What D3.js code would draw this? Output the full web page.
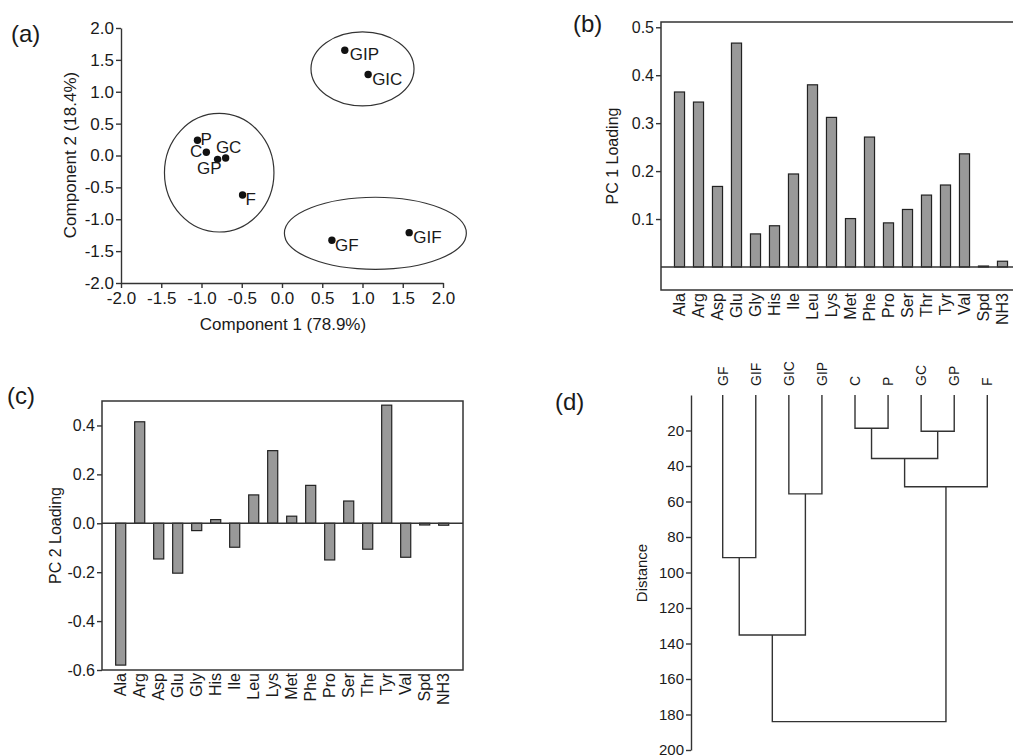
<!DOCTYPE html>
<html>
<head>
<meta charset="utf-8">
<script src="https://cdn.jsdelivr.net/npm/d3@7"></script>
<style>
  body { margin: 0; background: #fff; }
  text { font-family: "Liberation Sans", Arial, sans-serif; fill: #1a1a1a; }
</style>
</head>
<body>
<svg id="chart" width="1013" height="755"></svg>
<script>
// ---- DATA ----
// (a) PCA scores
var scoreNames = ["GIP", "GIC", "P", "C", "GC", "GP", "F", "GF", "GIF"];
var scoreX = [0.78, 1.07, -1.05, -0.94, -0.70, -0.80, -0.49, 0.62, 1.58];
var scoreY = [1.65, 1.27, 0.24, 0.05, -0.04, -0.06, -0.62, -1.33, -1.21];
// cluster ellipses (data units)
var ellipseCx = [1.00, -0.78, 1.16];
var ellipseCy = [1.36, -0.27, -1.22];
var ellipseRx = [0.64, 0.68, 1.13];
var ellipseRy = [0.58, 0.93, 0.565];
var pcaTicks = [-2, -1.5, -1, -0.5, 0, 0.5, 1, 1.5, 2];

// (b), (c) loadings
var aminoAcids = ["Ala", "Arg", "Asp", "Glu", "Gly", "His", "Ile", "Leu", "Lys",
                  "Met", "Phe", "Pro", "Ser", "Thr", "Tyr", "Val", "Spd", "NH3"];
var pc1Loading = [0.365, 0.344, 0.168, 0.467, 0.069, 0.086, 0.194, 0.380, 0.312,
                  0.101, 0.271, 0.092, 0.120, 0.150, 0.171, 0.236, 0.002, 0.012];
var pc2Loading = [-0.580, 0.415, -0.146, -0.204, -0.030, 0.015, -0.098, 0.116, 0.297,
                  0.029, 0.155, -0.150, 0.091, -0.106, 0.483, -0.139, -0.007, -0.008];
var pc1Ticks = [0.1, 0.2, 0.3, 0.4, 0.5];
var pc2Ticks = [-0.6, -0.4, -0.2, 0, 0.2, 0.4];

// (d) dendrogram: leaves 0..8, merge k creates node 9+k
var leaves = ["GF", "GIF", "GIC", "GIP", "C", "P", "GC", "GP", "F"];
var mergeA = [4, 6, 9, 11, 2, 0, 14, 15];
var mergeB = [5, 7, 10, 8, 3, 1, 13, 12];
var mergeHeight = [18.7, 20.4, 35.8, 51.7, 55.7, 91.6, 135.2, 184];
var distTicks = [20, 40, 60, 80, 100, 120, 140, 160, 180, 200];

var svg = d3.select("#chart");
svg.append("rect").attr("width", 1013).attr("height", 755).attr("fill", "#fff");

var lineCol = "#333";
var fmt1 = function(d) { return d.toFixed(1); };

function styleAxis(g, size) {
    g.attr("font-size", size).attr("font-family", "Liberation Sans, Arial, sans-serif");
    g.selectAll("path, line").attr("stroke", lineCol).attr("stroke-width", 1.4);
    g.selectAll("text").attr("fill", "#1a1a1a");
}

function panelLabel(txt, x, y) {
    svg.append("text").attr("x", x).attr("y", y).attr("font-size", 24).text(txt);
}

// ---- PANEL (a) ----
function plot_a() {
    var x = d3.scaleLinear().domain([-2, 2]).range([121, 443]);
    var y = d3.scaleLinear().domain([-2, 2]).range([283, 28]);

    svg.append("g")
        .attr("transform", "translate(0,283)")
        .call(d3.axisBottom(x).tickValues(pcaTicks).tickFormat(fmt1).tickSize(5).tickSizeOuter(0).tickPadding(4))
        .call(styleAxis, 17);
    svg.append("g")
        .attr("transform", "translate(121,0)")
        .call(d3.axisLeft(y).tickValues(pcaTicks).tickFormat(fmt1).tickSize(5).tickSizeOuter(0).tickPadding(2))
        .call(styleAxis, 17);

    svg.append("text")
        .attr("x", 283).attr("y", 330)
        .attr("text-anchor", "middle").attr("font-size", 17)
        .text("Component 1 (78.9%)");
    svg.append("text")
        .attr("transform", "translate(76,155) rotate(-90)")
        .attr("text-anchor", "middle").attr("font-size", 17)
        .text("Component 2 (18.4%)");

    for (let i = 0; i < ellipseCx.length; i++) {
        svg.append("ellipse")
            .attr("cx", x(ellipseCx[i]))
            .attr("cy", y(ellipseCy[i]))
            .attr("rx", x(ellipseRx[i]) - x(0))
            .attr("ry", y(0) - y(ellipseRy[i]))
            .attr("fill", "none")
            .attr("stroke", lineCol)
            .attr("stroke-width", 1.2);
    }

    // label placement around each point
    var labelOffset = {
        GIP: [5, 10, "start"], GIC: [4, 10, "start"], P: [3, 5, "start"],
        C: [-4, 5, "end"], GC: [3, -5, "middle"], GP: [4, 15, "end"],
        F: [3, 10, "start"], GF: [3, 11, "start"], GIF: [4, 10, "start"]
    };

    scoreNames.forEach(function(name, i) {
        var px = x(scoreX[i]), py = y(scoreY[i]);
        svg.append("circle")
            .attr("cx", px).attr("cy", py).attr("r", 3.7)
            .attr("fill", "#111");
        var o = labelOffset[name];
        svg.append("text")
            .attr("x", px + o[0]).attr("y", py + o[1])
            .attr("text-anchor", o[2]).attr("font-size", 17)
            .text(name);
    });
}

// ---- BAR PANELS (b), (c) ----
function plot_bars(values, box, domain, ticks, bandRange, title, titleX) {
    var x = d3.scaleBand().domain(aminoAcids).range(bandRange)
        .paddingInner(0.47).paddingOuter(0.235);
    var y = d3.scaleLinear().domain(domain).range([box.bottom, box.top]);

    svg.append("g")
        .selectAll("rect")
        .data(values)
        .enter()
        .append("rect")
            .attr("x", function(d, i) { return x(aminoAcids[i]); })
            .attr("y", function(d) { return y(Math.max(0, d)); })
            .attr("width", x.bandwidth())
            .attr("height", function(d) { return Math.abs(y(d) - y(0)); })
            .attr("fill", "#999")
            .attr("stroke", "#222")
            .attr("stroke-width", 1.2);

    // zero line
    svg.append("line")
        .attr("x1", box.left).attr("x2", box.right)
        .attr("y1", y(0)).attr("y2", y(0))
        .attr("stroke", lineCol).attr("stroke-width", 1.4);

    // frame
    svg.append("rect")
        .attr("x", box.left).attr("y", box.top)
        .attr("width", box.right - box.left).attr("height", box.bottom - box.top)
        .attr("fill", "none").attr("stroke", lineCol).attr("stroke-width", 1.5);

    svg.append("g")
        .attr("transform", "translate(" + box.left + ",0)")
        .call(d3.axisLeft(y).tickValues(ticks).tickFormat(fmt1).tickSize(5).tickSizeOuter(0).tickPadding(2))
        .call(styleAxis, 16)
        .select(".domain").remove();

    svg.append("g")
        .selectAll("text")
        .data(aminoAcids)
        .enter()
        .append("text")
            .attr("transform", function(d) {
                return "translate(" + (x(d) + x.bandwidth() / 2) + "," + (box.bottom + 3) + ") rotate(-90)";
            })
            .attr("dy", "0.36em")
            .attr("text-anchor", "end")
            .attr("font-size", 16)
            .text(function(d) { return d; });

    svg.append("text")
        .attr("transform", "translate(" + titleX + "," + ((box.top + box.bottom) / 2) + ") rotate(-90)")
        .attr("text-anchor", "middle").attr("font-size", 16)
        .text(title);
}

// ---- PANEL (d) ----
function plot_d() {
    var x = d3.scalePoint().domain(leaves).range([722.7, 987.3]);
    var y = d3.scaleLinear().domain([0, 200]).range([395, 750]);

    svg.append("g")
        .attr("transform", "translate(691,0)")
        .call(d3.axisLeft(y).tickValues(distTicks).tickFormat(d3.format("d")).tickSize(5).tickSizeOuter(0).tickPadding(2))
        .call(styleAxis, 15);

    svg.append("text")
        .attr("transform", "translate(647,573) rotate(-90)")
        .attr("text-anchor", "middle").attr("font-size", 15)
        .text("Distance");

    var nodeX = leaves.map(function(d) { return x(d); });
    var nodeH = leaves.map(function() { return 0; });
    for (let k = 0; k < mergeHeight.length; k++) {
        var a = mergeA[k], b = mergeB[k], h = mergeHeight[k];
        svg.append("path")
            .attr("d", "M" + nodeX[a] + "," + y(nodeH[a]) +
                       "V" + y(h) + "H" + nodeX[b] + "V" + y(nodeH[b]))
            .attr("fill", "none")
            .attr("stroke", lineCol)
            .attr("stroke-width", 1.4);
        nodeX.push((nodeX[a] + nodeX[b]) / 2);
        nodeH.push(h);
    }

    leaves.forEach(function(name) {
        svg.append("text")
            .attr("transform", "translate(" + x(name) + ",386) rotate(-90)")
            .attr("dy", "0.36em")
            .attr("text-anchor", "start")
            .attr("font-size", 14)
            .text(name);
    });
}

plot_a();
plot_bars(pc1Loading, {left: 661, right: 1021, top: 22, bottom: 290},
          [-0.048, 0.511], pc1Ticks, [670, 1012], "PC 1 Loading", 618);
plot_bars(pc2Loading, {left: 102, right: 463, top: 401, bottom: 670},
          [-0.6, 0.5], pc2Ticks, [111.2, 453.2], "PC 2 Loading", 61);
plot_d();

panelLabel("(a)", 11, 42);
panelLabel("(b)", 573, 32);
panelLabel("(c)", 7, 404);
panelLabel("(d)", 555, 410);
</script>
</body>
</html>
